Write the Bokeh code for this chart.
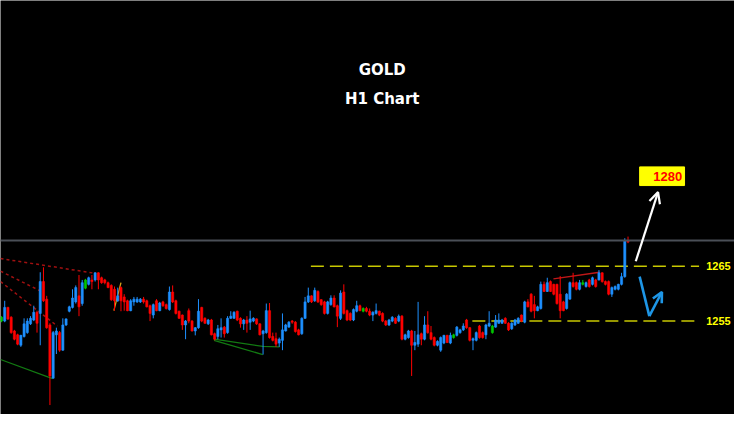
from bokeh.plotting import figure
from bokeh.models import Range1d, Span, Label, Arrow, OpenHead
from bokeh.embed import file_html
from bokeh.resources import INLINE
from bokeh.core.properties import value

# ---------------- data (prices) ----------------
open_ = [
    1255.0, 1255.0, 1257.5, 1255.7, 1253.2, 1252.5, 1250.6, 1252.2, 1252.9, 1254.5,
    1255.2, 1256.6, 1256.4, 1262.2, 1259.0, 1254.3, 1244.6, 1252.5, 1252.9, 1249.7,
    1254.3, 1256.8, 1257.5, 1258.5, 1259.6, 1258.2, 1261.0, 1261.7, 1262.5, 1262.5,
    1263.8, 1262.9, 1262.5, 1262.0, 1261.5, 1260.8, 1258.7, 1261.1, 1259.4, 1258.7,
    1256.9, 1258.5, 1258.5, 1258.5, 1259.0, 1258.7, 1257.8, 1256.1, 1258.7, 1256.9,
    1258.5, 1258.0, 1257.1, 1260.3, 1258.7, 1256.8, 1256.1, 1254.3, 1256.9, 1255.0,
    1253.2, 1253.8, 1257.5, 1255.5, 1254.5, 1255.2, 1252.7, 1252.2, 1253.4, 1253.9,
    1252.9, 1255.5, 1255.5, 1256.8, 1255.5, 1254.5, 1255.2, 1254.8, 1255.0, 1255.4,
    1254.5, 1252.7, 1252.9, 1256.9, 1252.2, 1251.8, 1251.0, 1251.5, 1253.2, 1253.9,
    1255.0, 1254.8, 1253.4, 1252.7, 1255.5, 1258.5, 1259.6, 1258.7, 1260.4, 1258.9,
    1258.5, 1256.4, 1258.0, 1259.2, 1257.8, 1255.5, 1260.3, 1256.9, 1256.4, 1255.2,
    1256.8, 1257.8, 1256.8, 1257.3, 1256.8, 1256.1, 1256.4, 1256.8, 1256.4, 1255.0,
    1254.3, 1255.0, 1255.5, 1255.0, 1255.9, 1251.7, 1252.0, 1253.2, 1250.6, 1250.8,
    1252.7, 1251.7, 1254.3, 1252.9, 1252.0, 1250.6, 1249.7, 1251.0, 1252.4, 1251.0,
    1252.0, 1252.4, 1252.9, 1253.4, 1255.2, 1253.8, 1251.5, 1251.5, 1254.1, 1252.9,
    1252.5, 1254.1, 1252.9, 1253.9, 1254.6, 1254.6, 1255.5, 1254.6, 1253.6, 1254.3,
    1254.6, 1256.1, 1254.8, 1258.5, 1259.9, 1258.0, 1256.9, 1257.3, 1261.7, 1260.4,
    1262.2, 1261.7, 1261.7, 1259.9, 1258.5, 1257.3, 1259.0, 1262.0, 1262.0, 1260.8,
    1261.7, 1261.3, 1262.5, 1261.7, 1262.5, 1262.5, 1263.8, 1262.2, 1262.2, 1259.9,
    1260.8, 1260.8, 1261.7, 1263.1, 1269.7,
]
close_ = [
    1255.7, 1257.5, 1255.4, 1252.9, 1251.7, 1250.8, 1252.4, 1254.5, 1255.0, 1255.5,
    1256.6, 1254.6, 1262.2, 1258.7, 1253.8, 1245.0, 1252.9, 1253.2, 1249.7, 1254.3,
    1255.4, 1257.6, 1259.2, 1261.1, 1257.6, 1262.0, 1262.5, 1262.9, 1262.2, 1263.8,
    1262.5, 1262.0, 1262.0, 1261.1, 1258.9, 1258.7, 1259.6, 1258.7, 1258.5, 1256.9,
    1258.7, 1259.0, 1259.0, 1259.0, 1258.5, 1257.6, 1256.4, 1258.0, 1256.9, 1258.3,
    1257.8, 1257.3, 1260.3, 1258.5, 1256.4, 1255.5, 1254.3, 1255.0, 1255.0, 1253.2,
    1253.8, 1256.8, 1255.0, 1254.6, 1255.2, 1252.5, 1251.7, 1253.6, 1253.8, 1252.7,
    1255.5, 1255.9, 1256.6, 1255.2, 1254.5, 1255.2, 1254.6, 1255.4, 1255.5, 1254.5,
    1252.5, 1253.2, 1256.9, 1252.0, 1251.5, 1250.8, 1251.7, 1253.4, 1254.3, 1254.8,
    1254.8, 1253.1, 1252.5, 1255.5, 1258.5, 1259.6, 1258.5, 1260.6, 1258.5, 1258.0,
    1256.4, 1258.5, 1259.2, 1257.6, 1255.9, 1260.1, 1256.4, 1255.2, 1255.2, 1257.1,
    1257.8, 1256.9, 1257.3, 1256.8, 1256.1, 1256.6, 1256.9, 1256.1, 1255.0, 1254.3,
    1255.2, 1255.7, 1254.6, 1255.9, 1251.7, 1252.5, 1253.2, 1250.6, 1251.1, 1252.5,
    1251.7, 1254.3, 1252.9, 1251.7, 1250.6, 1251.3, 1252.0, 1252.4, 1251.1, 1252.4,
    1252.5, 1253.9, 1253.4, 1254.1, 1253.8, 1251.5, 1251.8, 1252.9, 1252.0, 1252.0,
    1254.3, 1254.6, 1254.1, 1255.2, 1255.2, 1255.2, 1254.6, 1253.4, 1254.6, 1255.2,
    1255.5, 1255.0, 1258.5, 1257.6, 1256.8, 1256.9, 1257.6, 1261.7, 1260.4, 1262.0,
    1260.4, 1259.9, 1258.2, 1256.9, 1256.9, 1259.9, 1262.0, 1261.3, 1260.8, 1262.0,
    1262.0, 1262.0, 1261.3, 1262.9, 1261.3, 1263.8, 1262.2, 1261.7, 1259.9, 1261.1,
    1261.3, 1261.7, 1263.1, 1269.6, 1269.4,
]
high_ = [
    1255.9, 1258.7, 1257.6, 1255.9, 1253.4, 1252.7, 1252.5, 1255.5, 1255.5, 1255.9,
    1257.8, 1256.9, 1263.9, 1264.8, 1259.6, 1254.6, 1253.2, 1253.8, 1253.2, 1255.5,
    1255.5, 1257.8, 1260.8, 1261.5, 1263.4, 1262.5, 1262.7, 1263.1, 1263.4, 1263.9,
    1263.9, 1263.1, 1262.7, 1262.2, 1261.7, 1261.3, 1261.1, 1261.3, 1259.9, 1258.9,
    1259.0, 1259.4, 1259.4, 1259.2, 1259.4, 1258.9, 1258.0, 1258.2, 1259.0, 1258.5,
    1258.7, 1258.2, 1261.3, 1261.5, 1258.9, 1256.9, 1256.2, 1255.2, 1257.3, 1255.2,
    1253.9, 1259.0, 1257.6, 1255.7, 1255.4, 1255.4, 1252.9, 1254.3, 1255.5, 1254.1,
    1255.9, 1256.8, 1256.8, 1256.9, 1255.7, 1255.4, 1255.9, 1256.9, 1255.7, 1255.5,
    1254.6, 1253.4, 1258.2, 1258.3, 1252.9, 1252.9, 1252.0, 1256.4, 1254.5, 1255.0,
    1255.2, 1255.0, 1253.6, 1255.7, 1259.4, 1261.1, 1259.7, 1261.1, 1260.6, 1259.0,
    1258.7, 1258.7, 1259.7, 1259.7, 1258.0, 1260.6, 1261.7, 1257.1, 1256.6, 1257.3,
    1258.7, 1258.0, 1257.5, 1257.6, 1257.3, 1256.8, 1258.2, 1256.9, 1256.6, 1255.2,
    1255.4, 1255.9, 1255.7, 1256.2, 1256.1, 1252.7, 1253.4, 1253.4, 1253.2, 1258.5,
    1252.9, 1255.9, 1256.8, 1254.1, 1252.2, 1251.5, 1252.2, 1252.5, 1252.5, 1252.9,
    1252.7, 1254.1, 1253.6, 1254.6, 1255.4, 1253.9, 1252.0, 1253.1, 1254.3, 1253.1,
    1254.5, 1256.8, 1254.3, 1256.1, 1256.4, 1255.4, 1255.7, 1254.8, 1254.8, 1255.4,
    1255.7, 1256.2, 1258.7, 1259.0, 1260.1, 1259.6, 1257.8, 1262.2, 1262.2, 1262.9,
    1262.4, 1261.8, 1261.8, 1263.2, 1258.7, 1260.1, 1262.2, 1263.8, 1262.2, 1262.5,
    1262.5, 1262.2, 1262.7, 1263.1, 1262.7, 1264.3, 1263.9, 1262.4, 1262.4, 1261.3,
    1261.5, 1261.8, 1263.8, 1270.1, 1270.4,
]
low_ = [
    1254.8, 1254.8, 1255.2, 1252.7, 1251.5, 1250.6, 1250.3, 1252.0, 1252.7, 1254.3,
    1255.0, 1252.9, 1250.6, 1258.5, 1253.6, 1239.7, 1244.5, 1249.0, 1249.4, 1249.6,
    1254.1, 1256.6, 1257.3, 1258.2, 1255.9, 1257.8, 1260.8, 1261.5, 1260.8, 1262.2,
    1260.8, 1261.8, 1261.7, 1261.0, 1258.7, 1256.9, 1258.5, 1256.8, 1256.9, 1256.8,
    1256.8, 1257.8, 1258.3, 1258.3, 1258.2, 1257.5, 1255.0, 1255.5, 1256.8, 1256.8,
    1257.6, 1257.1, 1256.9, 1258.3, 1256.2, 1255.4, 1253.4, 1251.7, 1254.6, 1253.1,
    1252.4, 1253.6, 1254.8, 1254.5, 1254.3, 1252.4, 1251.5, 1251.7, 1252.0, 1252.0,
    1252.7, 1255.4, 1255.4, 1255.0, 1253.8, 1253.4, 1252.9, 1253.4, 1254.8, 1254.3,
    1252.4, 1248.9, 1252.7, 1251.8, 1251.3, 1250.3, 1250.3, 1249.7, 1253.1, 1253.8,
    1254.5, 1252.9, 1252.4, 1252.5, 1255.4, 1258.3, 1258.3, 1258.5, 1258.3, 1257.8,
    1256.2, 1256.2, 1257.8, 1257.5, 1253.9, 1255.2, 1256.2, 1255.0, 1255.0, 1255.0,
    1256.6, 1256.8, 1256.6, 1256.6, 1255.9, 1255.0, 1256.2, 1255.9, 1254.8, 1254.1,
    1254.1, 1254.8, 1254.5, 1254.8, 1251.5, 1251.5, 1251.8, 1245.0, 1249.7, 1250.3,
    1250.6, 1251.5, 1252.7, 1251.5, 1250.4, 1250.4, 1249.4, 1250.8, 1251.0, 1250.8,
    1251.8, 1252.2, 1252.7, 1253.2, 1253.6, 1251.3, 1249.7, 1251.3, 1251.8, 1251.8,
    1251.7, 1253.9, 1252.7, 1253.8, 1254.5, 1254.5, 1254.5, 1253.2, 1253.4, 1254.1,
    1254.5, 1254.8, 1254.6, 1257.5, 1256.6, 1255.5, 1256.8, 1257.1, 1260.3, 1260.3,
    1260.3, 1259.7, 1258.0, 1255.5, 1256.8, 1257.1, 1258.9, 1261.1, 1260.6, 1260.6,
    1261.5, 1261.1, 1261.1, 1261.5, 1261.1, 1262.4, 1262.0, 1261.5, 1259.7, 1259.4,
    1260.6, 1260.6, 1261.5, 1262.9, 1269.2,
]
marker_idx = [0, 26, 112, 140, 152, 180]      # candles painted green
current_price = 1269.7
levels = [1265, 1255]
level_start = [95.8, 145.8]
level_end = [216.0, 216.0]
level_label_x = [218.2, 218.2]
target = 1280
target_box = dict(left=197.6, right=211.5, bottom=1279.7, top=1283.1)
target_text_x = 206.3
title_lines = ["GOLD", "H1 Chart"]
title_x = 117.9
title_y = [1300.8, 1295.4]

# trend lines drawn on the chart (bar index, price)
red_dotted = [([-0.3, 29.1], [1266.4, 1263.7]),
              ([-0.3, 12.7], [1264.1, 1260.3]),
              ([-0.3, 17.3], [1262.2, 1254.1])]
green_lines = [([-0.3, 15.8], [1248.0, 1244.5]),
               ([65.8, 80.9, 86.1], [1251.7, 1250.4, 1250.3]),
               ([65.8, 80.9], [1251.5, 1248.9])]
yellow_line = ([34.8, 37.0], [1256.9, 1262.0])
red_solid = ([170.9, 185.2], [1262.7, 1263.9])
up_arrow = ([196.4, 203.3], [1265.9, 1278.5])
down_up_path = ([197.6, 200.6, 204.5], [1263.1, 1255.9, 1260.3])

assert len(open_) == len(close_) == len(high_) == len(low_) == 195

# ---------------- figure ----------------
p = figure(width=734, height=414, output_backend="svg", toolbar_location=None,
           x_range=Range1d(-0.303, 226.97), y_range=Range1d(1237.98, 1313.42),
           x_axis_location=None, y_axis_location=None,
           background_fill_color="black", border_fill_color="black",
           min_border=0, min_border_left=0, min_border_right=0,
           min_border_top=0, min_border_bottom=0)
p.grid.visible = False
p.outline_line_color = None

BLUE = "#1e90ff"
RED = "#ff0000"
GREEN = "#00c800"

idx = list(range(len(open_)))
colors = []
for i in idx:
    if i in marker_idx:
        colors.append(GREEN)
    elif close_[i] >= open_[i]:
        colors.append(BLUE)
    else:
        colors.append(RED)
tops = [max(o, c) for o, c in zip(open_, close_)]
bots = [min(o, c) for o, c in zip(open_, close_)]

# current price line
p.add_layout(Span(location=current_price, dimension="width",
                  line_color="#4a4f57", line_width=2))

# drawn trend lines
for xs, ys in red_dotted:
    p.line(xs, ys, line_color="#a01010", line_width=1.5, line_dash="3 3")
for xs, ys in green_lines:
    p.line(xs, ys, line_color="#127a12", line_width=1.3)
p.line(yellow_line[0], yellow_line[1], line_color="#d4a017", line_width=1.3)
p.line(red_solid[0], red_solid[1], line_color="#c01818", line_width=1.3)

# level lines
for lv, x0, x1 in zip(levels, level_start, level_end):
    p.line([x0, x1], [lv, lv], line_color="#c8c800", line_width=1.5, line_dash="13 6")
p.text(x=level_label_x, y=levels, text=[str(v) for v in levels],
       text_color="#ffff00", text_font=value("Liberation Sans"),
       text_font_style="bold", text_font_size="11px",
       text_align="left", text_baseline="middle")

# candles
p.segment(x0=idx, y0=high_, x1=idx, y1=low_, line_color=colors, line_width=1)
p.vbar(x=idx, width=0.66, top=tops, bottom=bots,
       fill_color=colors, line_color=colors, line_width=0.6)

# target box
p.quad(left=[target_box["left"]], right=[target_box["right"]],
       bottom=[target_box["bottom"]], top=[target_box["top"]],
       fill_color="#ffff00", line_color="#ffff00")
p.text(x=[target_text_x], y=[(target_box["bottom"] + target_box["top"]) / 2],
       text=[str(target)], text_color="#ff0000", text_font=value("Liberation Sans"),
       text_font_style="bold", text_font_size="13px",
       text_align="center", text_baseline="middle")

# arrows
p.add_layout(Arrow(x_start=up_arrow[0][0], y_start=up_arrow[1][0],
                   x_end=up_arrow[0][1], y_end=up_arrow[1][1],
                   line_color="white", line_width=2.2,
                   end=OpenHead(size=11, line_color="white", line_width=2.2)))
p.line(down_up_path[0][:2], down_up_path[1][:2], line_color="#1e96e6", line_width=2.6)
p.add_layout(Arrow(x_start=down_up_path[0][1], y_start=down_up_path[1][1],
                   x_end=down_up_path[0][2], y_end=down_up_path[1][2],
                   line_color="#1e96e6", line_width=2.6,
                   end=OpenHead(size=10, line_color="#1e96e6", line_width=2.6)))

# titles
for t, ty in zip(title_lines, title_y):
    p.add_layout(Label(x=title_x, y=ty, text=t, text_color="white",
                       text_font="DejaVu Sans", text_font_style="bold",
                       text_font_size="15px", text_align="center",
                       text_baseline="middle"))

open("out.html", "w").write(file_html(p, INLINE))
